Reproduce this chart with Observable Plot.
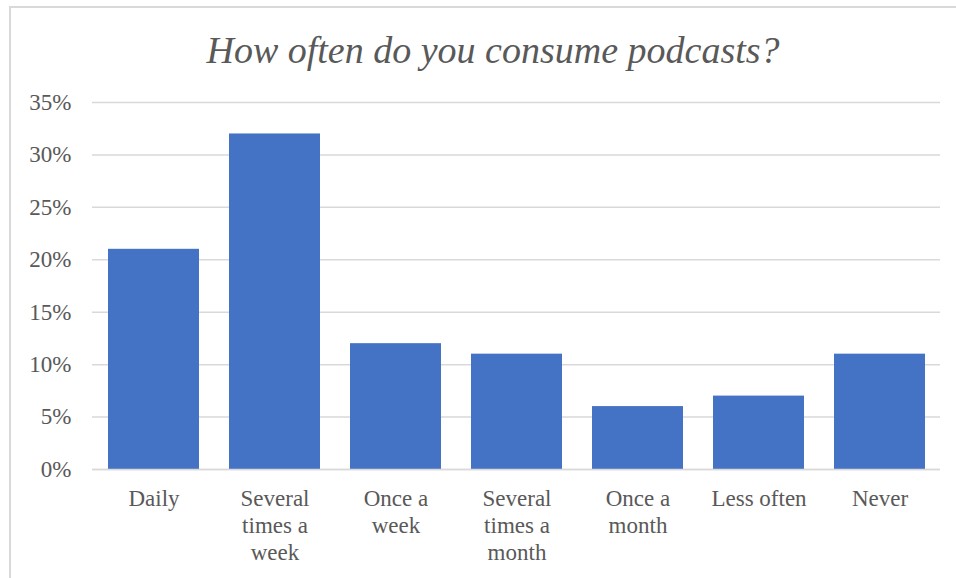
<!DOCTYPE html>
<html>
<head>
<meta charset="utf-8">
<script src="https://cdn.jsdelivr.net/npm/d3@7"></script>
<script src="https://cdn.jsdelivr.net/npm/@observablehq/plot@0.6"></script>
<style>
  html, body { margin: 0; padding: 0; background: #fff; }
  #wrap { position: relative; width: 956px; height: 578px; overflow: hidden; }
  #frame { position: absolute; left: 9px; top: 6px; width: 2000px; height: 700px; border: 2px solid #d9d9d9; box-sizing: border-box; }
  #title { position: absolute; left: 10px; width: 966px; top: 30px; text-align: center;
           font-family: "Liberation Serif", "Times New Roman", serif; font-style: italic;
           font-size: 38px; color: #595959; line-height: 40px; white-space: nowrap; }
  #chart { position: absolute; left: 0; top: 0; }
</style>
</head>
<body>
<div id="wrap">
  <div id="frame"></div>
  <div id="title">How often do you consume podcasts?</div>
  <div id="chart"></div>
</div>
<script>
const categories = ["Daily", "Several times a week", "Once a week", "Several times a month", "Once a month", "Less often", "Never"];
const tickLabels = ["Daily", "Several\ntimes a\nweek", "Once a\nweek", "Several\ntimes a\nmonth", "Once a\nmonth", "Less often", "Never"];
const values = [0.21, 0.32, 0.12, 0.11, 0.06, 0.07, 0.11];
const yTicks = [0, 0.05, 0.10, 0.15, 0.20, 0.25, 0.30, 0.35];

const data = categories.map((c, i) => ({category: c, value: values[i]}));
const labelOf = new Map(categories.map((c, i) => [c, tickLabels[i]]));

const chart = Plot.plot({
  width: 956,
  height: 578,
  marginTop: 102,
  marginBottom: 109,
  marginLeft: 92,
  marginRight: 16,
  style: {fontFamily: "'Liberation Serif', 'Times New Roman', serif", fontSize: "23px", color: "#595959", background: "transparent"},
  x: {domain: categories, paddingInner: 0.25, paddingOuter: 0.125},
  y: {domain: [0, 0.35]},
  marks: [
    Plot.gridY(yTicks, {stroke: "#d9d9d9", strokeOpacity: 1, strokeWidth: 1.5}),
    Plot.barY(data, {x: "category", y: "value", fill: "#4472c4"}),
    Plot.ruleY([0], {stroke: "#d9d9d9", strokeWidth: 1.5}),
    Plot.axisY(yTicks, {tickSize: 0, tickPadding: 21, tickFormat: d3.format(".0%"), label: null, fill: "#595959", fontSize: 23}),
    Plot.axisX({tickSize: 0, tickPadding: 17, tickFormat: d => labelOf.get(d), label: null, fill: "#595959", fontSize: 23, lineHeight: 1.18})
  ]
});
document.getElementById("chart").appendChild(chart);
</script>
</body>
</html>
